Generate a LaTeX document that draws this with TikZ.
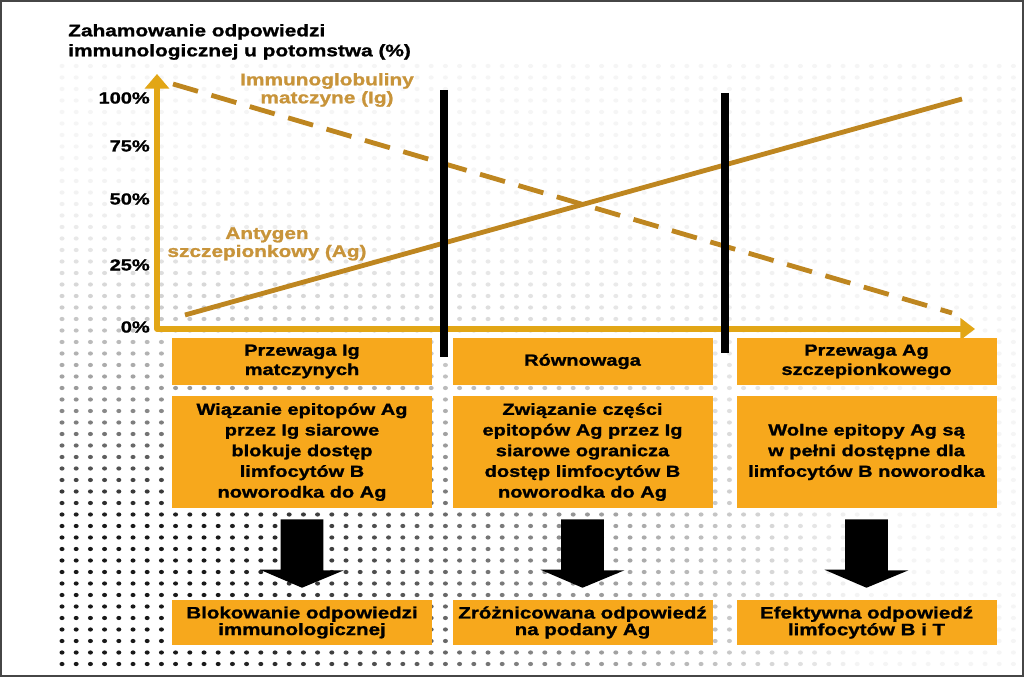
\documentclass[tikz,border=0pt]{standalone}
\usepackage{fontspec}
\setmainfont{Liberation Sans}[FakeStretch=1.25,BoldFeatures={FakeBold=1.2}]
\usetikzlibrary{arrows.meta,calc}
\definecolor{boxor}{RGB}{247,168,28}
\definecolor{axisgold}{RGB}{226,166,22}
\definecolor{linegold}{RGB}{190,134,32}
\definecolor{labgold}{RGB}{200,148,58}
\definecolor{framegray}{RGB}{70,70,70}
\begin{document}
\begin{tikzpicture}[x=0.75pt,y=-0.75pt,
  obox/.style={fill=boxor,draw=none,minimum width=195pt,align=center,inner sep=0pt,text=black,font=\bfseries\fontsize{12}{14.5}\selectfont},
  hbox/.style={obox,minimum height=35.25pt},
  bbox/.style={obox,minimum height=84pt,font=\bfseries\fontsize{12}{15.5}\selectfont},
  rbox/.style={obox,minimum height=33.75pt,font=\bfseries\fontsize{12.3}{11.4}\selectfont},
  tick/.style={anchor=east,inner sep=0pt,font=\bfseries\fontsize{12}{13}\selectfont},
  axis/.style={draw=axisgold,line width=4.2pt,line join=round,{Triangle[width=18pt,length=11pt]}-{Triangle[width=16pt,length=11pt]}},
  curve/.style={draw=linegold,line width=3.6pt},
  divider/.style={draw=black,line width=6pt},
  blockarr/.style={fill=black},
  lab/.style={text=labgold,align=center,inner sep=0pt,font=\bfseries\fontsize{12.5}{13.5}\selectfont}]
\useasboundingbox (0,0) rectangle (1024,677);
\fill[white] (0,0) rectangle (1024,677);
% dotted background texture
\foreach \i in {0,...,67} {
  \foreach \j in {0,...,52} {
    \pgfmathsetmacro\xx{62+14.2*\i}
    \pgfmathsetmacro\yy{66+11.5*\j}
    \pgfmathsetmacro\fy{max(0,min(1,(\yy-150)/370))}
    \pgfmathsetmacro\fx{max(0,min(1,1-(\xx-220)/640))}
    \pgfmathsetmacro\dd{min(92,4+86*\fy*\fy*\fx)}
    \fill[black!\dd] (\xx,\yy) ellipse[x radius=2.5,y radius=2.1];
  }
}
\draw[framegray,line width=1.5pt] (1,1) rectangle (1023,676);
% title
\node[anchor=west,align=left,inner sep=0pt,font=\bfseries\fontsize{12.5}{15}\selectfont] (title) at (68,42)
  {Zahamowanie odpowiedzi\\immunologicznej u potomstwa (\%)};
% axes
\coordinate (O) at (157,329);
\coordinate (ytip) at (157,74);
\coordinate (xtip) at (975,329);
\draw[axis] (ytip) -- (O) -- (xtip);
% ticks
\node[tick] (t100) at (150,98) {100\%};
\node[tick] (t75) at (150,146) {75\%};
\node[tick] (t50) at (150,199) {50\%};
\node[tick] (t25) at (150,265) {25\%};
\node[tick] (t0) at (150,327) {0\%};
% curves
\coordinate (ig0) at (173,84);
\coordinate (ig1) at (952,313);
\coordinate (ag0) at (185,315);
\coordinate (ag1) at (962,99);
\draw[curve,dash pattern=on 19.5pt off 10.5pt] (ig0) -- (ig1);
\draw[curve] (ag0) -- (ag1);
% labels
\node[lab] (iglab) at (327,90) {Immunoglobuliny\\matczyne (Ig)};
\node[lab] (aglab) at (267,244) {Antygen\\szczepionkowy (Ag)};
% dividers
\coordinate (d1t) at (443.5,90);
\coordinate (d1b) at (443.5,357);
\coordinate (d2t) at (725,93);
\coordinate (d2b) at (725,353);
\draw[divider] (d1t) -- (d1b);
\draw[divider] (d2t) -- (d2b);
% boxes
\node[hbox] (h1) at (302,361.5) {Przewaga Ig\\matczynych};
\node[hbox] (h2) at (582.5,361.5) {Równowaga};
\node[hbox] (h3) at (866.5,361.5) {Przewaga Ag\\szczepionkowego};
\node[bbox] (b1) at (302,452) {Wiązanie epitopów Ag\\przez Ig siarowe\\blokuje dostęp\\limfocytów B\\noworodka do Ag};
\node[bbox] (b2) at (582.5,452) {Związanie części\\epitopów Ag przez Ig\\siarowe ogranicza\\dostęp limfocytów B\\noworodka do Ag};
\node[bbox] (b3) at (866.5,452) {Wolne epitopy Ag są\\w pełni dostępne dla\\limfocytów B noworodka};
\node[rbox] (r1) at (302,622.5) {Blokowanie odpowiedzi\\immunologicznej};
\node[rbox] (r2) at (582.5,622.5) {Zróżnicowana odpowiedź\\na podany Ag};
\node[rbox] (r3) at (866.5,622.5) {Efektywna odpowiedź\\limfocytów B i T};
% block arrows
\foreach \n in {1,2,3} {
  \fill[blockarr] ([xshift=-16.1pt,yshift=-8.25pt]b\n.south) -- ++(32.2pt,0) -- ++(0,-38.25pt)
    -- ++(15.4pt,0) -- ([yshift=9pt]r\n.north) -- ++(-31.5pt,13.5pt) -- ++(15.4pt,0) -- cycle;
}
\end{tikzpicture}
\end{document}
